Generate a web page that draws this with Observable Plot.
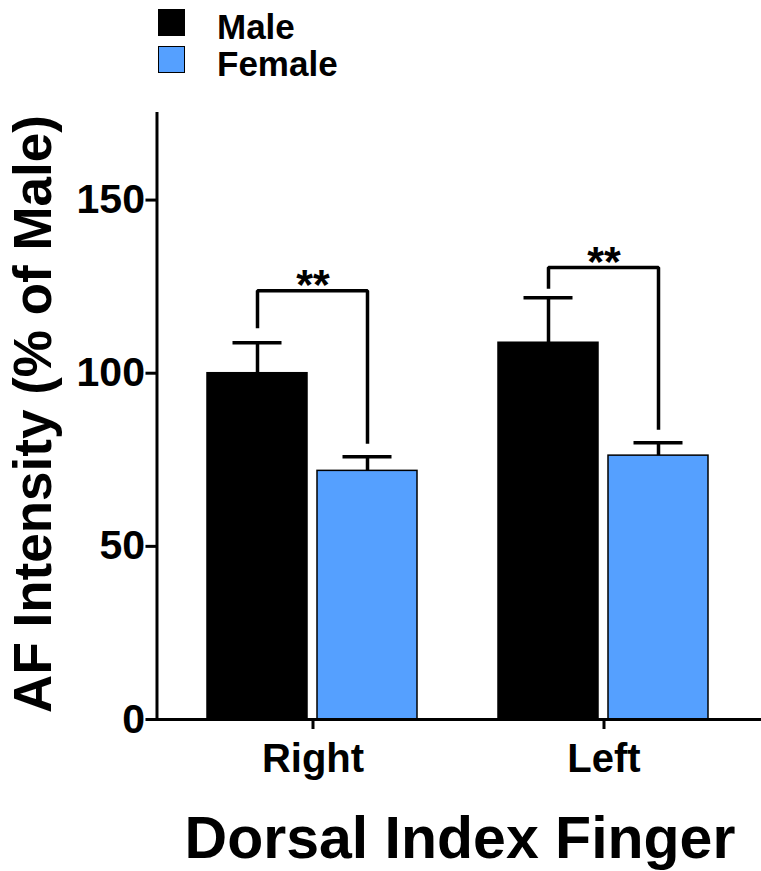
<!DOCTYPE html>
<html><head><meta charset="utf-8">
<script src="https://cdn.jsdelivr.net/npm/d3@7"></script>
<script src="https://cdn.jsdelivr.net/npm/@observablehq/plot@0.6"></script>
<style>
body{margin:0;background:#fff;}
#wrap{position:relative;width:761px;height:871px;overflow:hidden;font-family:"Liberation Sans",Arial,sans-serif;font-weight:bold;color:#000;}
#chart{position:absolute;left:0;top:0;}
.sw{position:absolute;left:158px;width:27px;height:27px;box-sizing:border-box;border:1.5px solid #000;}
.lt{position:absolute;left:217px;font-size:35px;line-height:1;white-space:nowrap;}
#ylab{position:absolute;left:31.5px;top:414px;transform:translate(-50%,-50%) rotate(-90deg);transform-origin:50% 50%;font-size:53px;white-space:nowrap;line-height:1;}
#xlab{position:absolute;left:460px;top:809px;transform:translateX(-50%);font-size:59px;white-space:nowrap;line-height:1;}
</style></head><body>
<div id="wrap">
  <div id="chart"></div>
  <div id="legend"></div>
  <div id="ylab">AF Intensity (% of Male)</div>
  <div id="xlab">Dorsal Index Finger</div>
</div>
<script>
const fingers = ["Right", "Left"];
const sexes = ["Male", "Female"];
const sexColors = ["#000000", "#55A0FF"];
const maleMean = [100, 108.8];
const maleErr = [8.8, 13];
const femaleMean = [71.8, 76.2];
const femaleErr = [4.1, 3.7];
const bracketTop = [123.8, 130.5];
const bracketMaleEnd = [113, 124.4];
const bracketFemaleEnd = [79.6, 83.7];
const sigLabels = ["**", "**"];
const yTicks = [0, 50, 100, 150];
const yMax = 175;

const rows = [];
fingers.forEach((f, i) => {
  rows.push({finger: f, sex: "Male", mean: maleMean[i], err: maleErr[i]});
  rows.push({finger: f, sex: "Female", mean: femaleMean[i], err: femaleErr[i]});
});
const bracketRows = [];
fingers.forEach((f, i) => {
  bracketRows.push({finger: f, sex: "Male", y: bracketMaleEnd[i]});
  bracketRows.push({finger: f, sex: "Male", y: bracketTop[i]});
  bracketRows.push({finger: f, sex: "Female", y: bracketTop[i]});
  bracketRows.push({finger: f, sex: "Female", y: bracketFemaleEnd[i]});
});
const sigRows = fingers.map((f, i) => ({finger: f, y: bracketTop[i], label: sigLabels[i]}));

const W = 761, H = 871, mL = 156, mR = 0;
const fxPadIn = 0.274, fxPadOut = 0.173;
const fxStep = (W - mL - mR) / (fingers.length - fxPadIn + 2 * fxPadOut);
const outerPx = fxPadOut * fxStep; // outer padding of the facet band, in pixels

const plot = Plot.plot({
  width: W,
  height: H,
  marginTop: 113,
  marginBottom: 152,
  marginLeft: mL,
  marginRight: mR,
  style: {fontFamily: "Liberation Sans, Arial, sans-serif", fontWeight: "bold", color: "#000", background: "transparent", overflow: "visible"},
  fx: {domain: fingers, paddingInner: fxPadIn, paddingOuter: fxPadOut, axis: null, label: null},
  x: {domain: sexes, paddingInner: 0.09, paddingOuter: 0, axis: null, label: null},
  y: {domain: [0, yMax], axis: null, label: null},
  color: {domain: sexes, range: sexColors},
  marks: [
    Plot.barY(rows, {fx: "finger", x: "sex", y: "mean", fill: "sex", stroke: "#000", strokeWidth: 1.5}),
    Plot.ruleX(rows, {fx: "finger", x: "sex", y1: "mean", y2: d => d.mean + d.err, stroke: "#000", strokeWidth: 3.5}),
    Plot.tickY(rows, {fx: "finger", x: "sex", y: d => d.mean + d.err, stroke: "#000", strokeWidth: 3.5, insetLeft: 25.5, insetRight: 25.5}),
    Plot.line(bracketRows, {fx: "finger", x: "sex", y: "y", z: "finger", stroke: "#000", strokeWidth: 3.5, strokeLinejoin: "miter", strokeLinecap: "butt"}),
    Plot.text(sigRows, {fx: "finger", y: "y", text: "label", fontSize: 43, lineAnchor: "bottom", dy: 8, fill: "#000"}),
    Plot.axisFx({anchor: "bottom", tickSize: 10, tickPadding: 14, fontSize: 40, strokeWidth: 3, label: null}),
    Plot.axisY({anchor: "left", facetAnchor: "left", ticks: yTicks, tickSize: 11, tickPadding: 1, fontSize: 41, strokeWidth: 3, label: null, dx: -outerPx}),
    Plot.frame({facet: "super", anchor: "left", stroke: "#000", strokeWidth: 3, dx: -outerPx}),
    Plot.frame({facet: "super", anchor: "bottom", stroke: "#000", strokeWidth: 3, insetLeft: -outerPx - 1.5, insetRight: -outerPx - 2})
  ]
});
document.getElementById("chart").appendChild(plot);

const legend = document.getElementById("legend");
const legendTops = [9, 46];
sexes.forEach((s, i) => {
  const sw = document.createElement("div");
  sw.className = "sw";
  sw.style.top = legendTops[i] + "px";
  sw.style.background = sexColors[i];
  legend.appendChild(sw);
  const t = document.createElement("div");
  t.className = "lt";
  t.style.top = legendTops[i] + "px";
  t.textContent = s;
  legend.appendChild(t);
});
</script>
</body></html>
